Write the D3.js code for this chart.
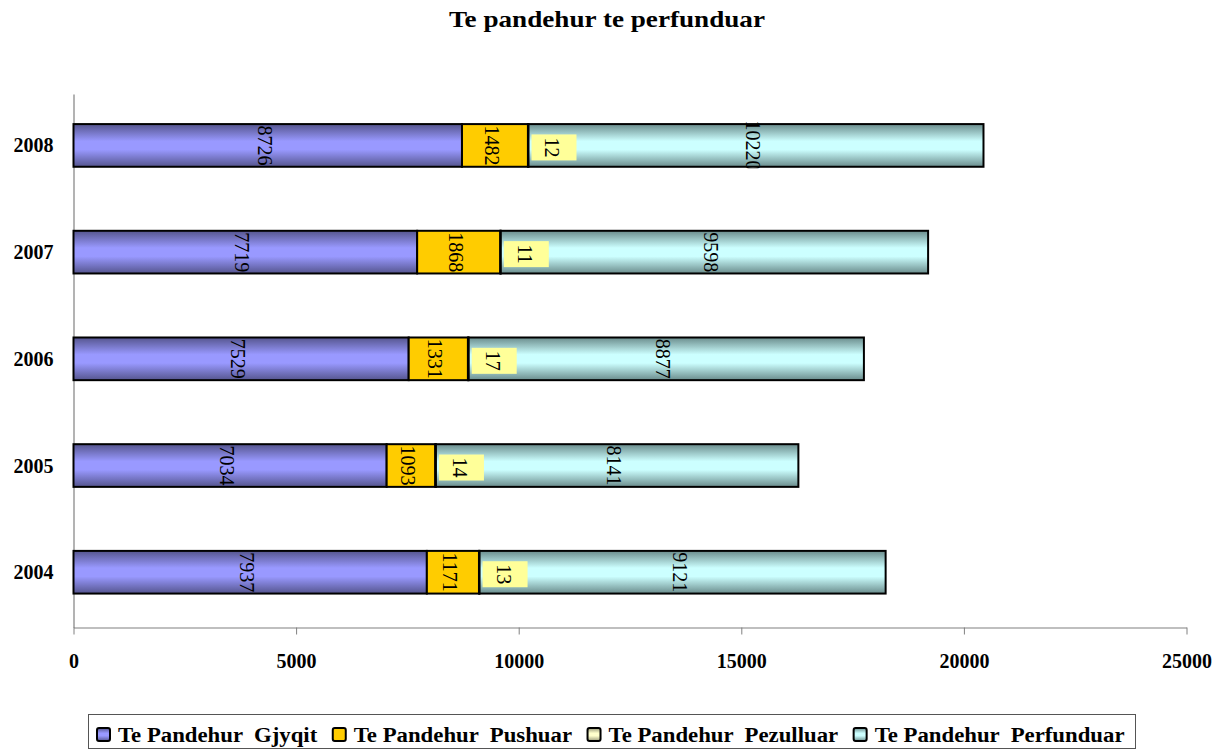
<!DOCTYPE html>
<html><head><meta charset="utf-8">
<script src="https://cdn.jsdelivr.net/npm/d3@7"></script>
<style>
html,body{margin:0;padding:0;background:#fff;}
svg{display:block;}
text{font-family:"Liberation Serif","Times New Roman",serif;}
</style></head><body>
<svg id="chart" width="1215" height="749"></svg>
<script>
// ---- data ----
const years = ["2008", "2007", "2006", "2005", "2004"];
const seriesNames = ["Te Pandehur  Gjyqit", "Te Pandehur  Pushuar", "Te Pandehur  Pezulluar", "Te Pandehur  Perfunduar"];
const gjyqit = [8726, 7719, 7529, 7034, 7937];
const pushuar = [1482, 1868, 1331, 1093, 1171];
const pezulluar = [12, 11, 17, 14, 13];
const perfunduar = [10220, 9598, 8877, 8141, 9121];
const xTicks = [0, 5000, 10000, 15000, 20000, 25000];
const title = "Te pandehur te perfunduar";

// ---- styles ----
const colors = [
  {light: "#9999ff", dark: "#55558e"},
  {light: "#ffcc00", dark: "#ffcc00"},
  {light: "#ffffcc", dark: "#9a9a7a"},
  {light: "#ccffff", dark: "#6a8c8c"}
];
const labelBoxColor = "#ffff99";

const keys = ["s0", "s1", "s2", "s3"];
const table = years.map((yr, i) => ({year: yr, s0: gjyqit[i], s1: pushuar[i], s2: pezulluar[i], s3: perfunduar[i]}));
const stacked = d3.stack().keys(keys)(table);

const svg = d3.select("#chart");
const W = 1215, H = 749;

const x = d3.scaleLinear().domain([0, 25000]).range([73.5, 1186.5]);
const y = d3.scaleBand().domain(years).range([94, 627.5]).paddingInner(0.6).paddingOuter(0.3).align(0.47);
const bw = y.bandwidth();

// gradients
const defs = svg.append("defs");
colors.forEach((c, i) => {
  const g = defs.append("linearGradient").attr("id", "grad" + i)
    .attr("x1", 0).attr("y1", 0).attr("x2", 0).attr("y2", 1);
  g.append("stop").attr("offset", "0%").attr("stop-color", c.dark);
  g.append("stop").attr("offset", "40%").attr("stop-color", c.light);
  g.append("stop").attr("offset", "60%").attr("stop-color", c.light);
  g.append("stop").attr("offset", "100%").attr("stop-color", c.dark);
});
years.forEach((yr, i) => {
  defs.append("clipPath").attr("id", "clip" + i)
    .append("rect").attr("x", 0).attr("width", W)
    .attr("y", y(yr) - 12).attr("height", bw + 13.5);
});

// title
svg.append("text")
  .attr("x", 607).attr("y", 27)
  .attr("text-anchor", "middle")
  .attr("font-size", 23).attr("font-weight", "bold")
  .attr("textLength", 316).attr("lengthAdjust", "spacingAndGlyphs")
  .text(title);

// axes
const xAxis = svg.append("g").attr("transform", `translate(0,${y.range()[1]})`)
  .call(d3.axisBottom(x).tickValues(xTicks).tickSize(7).tickSizeOuter(0).tickPadding(19).tickFormat(d3.format("d")));
xAxis.select(".domain").attr("stroke", "#808080").attr("stroke-width", 1.2);
xAxis.selectAll(".tick line").attr("stroke", "#808080");
xAxis.selectAll(".tick text").attr("font-family", "Liberation Serif").attr("font-size", 20).attr("font-weight", "bold").attr("fill", "#000");

const yAxis = svg.append("g").attr("transform", `translate(${x(0)},0)`)
  .call(d3.axisLeft(y).tickSize(0).tickSizeOuter(0).tickPadding(20));
yAxis.select(".domain").attr("stroke", "#808080").attr("stroke-width", 1.2);
yAxis.selectAll(".tick text").attr("font-family", "Liberation Serif").attr("font-size", 20).attr("font-weight", "bold").attr("fill", "#000").attr("dy", "0.35em");

// bars
const layers = svg.append("g").selectAll("g").data(stacked).join("g")
  .attr("fill", (d, i) => `url(#grad${i})`);
layers.selectAll("rect").data(d => d).join("rect")
  .attr("x", d => x(d[0]))
  .attr("y", d => y(d.data.year))
  .attr("width", d => Math.max(0.5, x(d[1]) - x(d[0])))
  .attr("height", bw)
  .attr("stroke", "#000").attr("stroke-width", 2);

// value labels
stacked.forEach((layer, si) => {
  layer.forEach((d, i) => {
    const cy = y(d.data.year) + bw / 2;
    const g = svg.append("g").attr("clip-path", `url(#clip${i})`);
    if (si === 2) {
      const bx = x(d[1]) + 3;
      const lg = g.append("g").attr("transform", `translate(${bx},${cy + 2})`);
      lg.append("rect").attr("x", 0).attr("y", -13).attr("width", 45).attr("height", 26).attr("fill", labelBoxColor);
      lg.append("text").attr("transform", `translate(21,0) rotate(90)`)
        .attr("text-anchor", "middle").attr("dominant-baseline", "central")
        .attr("font-size", 20).text(d[1] - d[0]);
    } else {
      const cx = x((d[0] + d[1]) / 2);
      g.append("text").attr("transform", `translate(${cx - 3},${cy}) rotate(90)`)
        .attr("text-anchor", "middle").attr("dominant-baseline", "central")
        .attr("font-size", 20).text(d[1] - d[0]);
    }
  });
});

// legend
const legend = svg.append("g");
legend.append("rect").attr("x", 88.5).attr("y", 714.5).attr("width", 1047).attr("height", 34)
  .attr("fill", "#fff").attr("stroke", "#555").attr("stroke-width", 1);
const items = legend.selectAll("g.item").data(seriesNames).join("g").attr("class", "item");
items.append("rect").attr("width", 13).attr("height", 13).attr("rx", 2)
  .attr("y", 728).attr("fill", (d, i) => `url(#grad${i})`)
  .attr("stroke", "#000").attr("stroke-width", 2);
const texts = items.append("text").attr("y", 742)
  .attr("font-size", 20).attr("font-weight", "bold")
  .attr("xml:space", "preserve").style("white-space", "pre")
  .text(d => d);
const natural = texts.nodes().map(n => n.getComputedTextLength());
const targetTotal = 897;
const k = targetTotal / d3.sum(natural);
let cursor = 97;
const gap = 15.5;
items.each(function(d, i) {
  const w = natural[i] * k;
  const it = d3.select(this);
  it.select("rect").attr("x", cursor);
  it.select("text").attr("x", cursor + 21).attr("textLength", w).attr("lengthAdjust", "spacingAndGlyphs");
  cursor += 21 + w + gap;
});
</script>
</body></html>
